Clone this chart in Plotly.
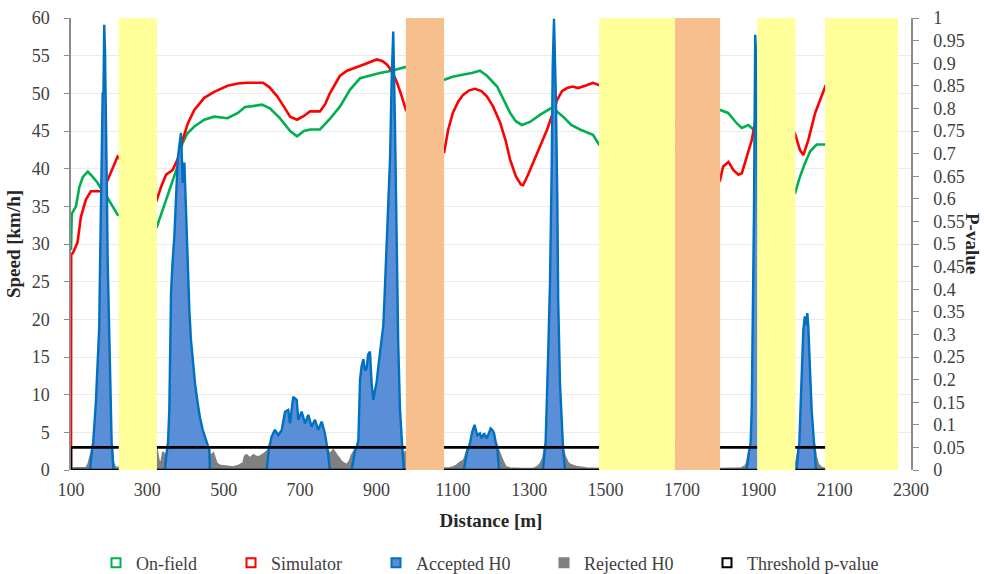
import plotly.graph_objects as go

# ---------------- data ----------------
onfield_x = [100, 102, 113, 122, 131, 144, 157, 170, 183, 196, 209, 222,
             325, 340, 353, 366, 379, 392, 405, 423, 449, 475, 510, 537, 556, 575, 600, 621, 647, 674, 692,
             710, 726, 752, 778, 805, 831, 857, 883, 909, 940, 977,
             1077, 1100, 1128, 1150, 1171, 1190, 1216, 1233, 1250, 1265, 1281, 1302, 1330, 1360, 1389, 1410,
             1433, 1467, 1483,
             1800, 1821, 1844, 1857, 1874, 1887, 1897,
             1996, 2009, 2022, 2036, 2053, 2077]
onfield_y = [29.2, 34.0, 35.0, 37.6, 38.9, 39.6, 38.9, 38.1, 37.0, 36.1, 35.0, 33.9,
             32.3, 34.5, 36.3, 38.5, 40.3, 43.4, 44.7, 45.6, 46.5, 46.9, 46.7, 47.4, 48.2, 48.3, 48.5, 48.0,
             46.7, 45.0, 44.3, 45.0, 45.2, 45.2, 46.6, 48.3, 50.5, 52.0, 52.4, 52.7, 53.0, 53.5,
             51.8, 52.2, 52.5, 52.7, 53.0, 52.3, 50.9, 49.2, 47.4, 46.3, 45.8, 46.2, 47.2, 48.1, 46.9, 45.8,
             45.2, 44.5, 43.2,
             47.8, 47.4, 46.0, 45.4, 45.8, 45.2, 45.2,
             36.7, 38.9, 40.7, 42.3, 43.2, 43.2]

simulator_x = [100, 100.5, 105, 117, 126, 139, 152, 170, 183, 196, 209, 222,
               325, 336, 349, 366, 379, 392, 406, 423, 449, 475, 510, 537, 560, 603, 620, 640, 658, 674, 692,
               710, 726, 752, 766, 778, 804, 823, 860, 901, 915, 928, 942, 954, 965, 977,
               1077, 1088, 1100, 1114, 1127, 1143, 1158, 1175, 1189, 1205, 1224, 1238, 1250, 1265, 1278, 1284,
               1297, 1310, 1330, 1347, 1362, 1373, 1386, 1399, 1414, 1428, 1447, 1467, 1483,
               1800, 1808, 1822, 1835, 1848, 1857, 1870, 1883, 1891,
               1996, 2009, 2018, 2031, 2049, 2077]
simulator_y = [0.0, 28.6, 28.8, 30.2, 33.6, 35.9, 37.0, 37.0, 37.0, 38.5, 40.1, 41.6,
               35.9, 37.6, 39.2, 39.8, 41.2, 43.8, 46.0, 47.8, 49.4, 50.2, 51.0, 51.3, 51.4, 51.4, 50.8, 49.6,
               48.2, 46.9, 46.5, 47.0, 47.6, 47.6, 48.6, 50.0, 52.3, 53.0, 53.7, 54.5, 54.3, 53.8, 52.8, 51.4,
               49.8, 47.8,
               42.1, 45.2, 47.4, 48.9, 49.8, 50.4, 50.6, 50.3, 49.6, 48.3, 46.1, 43.8, 41.2, 39.0, 37.9, 37.8,
               39.2, 40.7, 43.0, 45.2, 47.4, 49.1, 50.3, 50.7, 50.9, 50.7, 51.0, 51.4, 51.1,
               38.5, 40.3, 40.9, 39.8, 39.2, 39.4, 41.6, 43.8, 46.0,
               44.7, 42.5, 41.8, 43.8, 47.4, 51.1]

pvalue_x = [100, 110, 125, 140, 145, 150, 155, 158, 165, 170, 174, 176, 178.6, 181, 183, 185, 187, 189,
            191.6, 194, 196, 199, 202, 204, 206.5, 208, 211, 215, 220,
            325, 330, 336, 341, 346, 350, 354, 357.5, 362, 366, 370.6, 375, 379.4, 384, 388, 390, 392.5,
            397, 401, 405.6, 410, 414, 418.7, 425, 431.8, 438, 445, 452, 458, 462, 464, 472.7, 481.5, 490,
            499, 512, 525, 540, 551, 555, 560, 569, 577.5, 586, 595, 604, 612.5, 618, 621, 625.5, 634, 643,
            652, 660.5, 669, 673.6, 682, 691, 695.4, 704, 713, 721.5, 730, 739, 747.7, 756.6, 765, 769.7,
            772, 778, 787, 796, 809, 815, 822, 830, 835, 844, 848, 852.6, 857, 861, 865.6, 870, 874.4, 878,
            883, 887.5, 891.8, 896, 900.6, 905, 909, 913, 918, 922, 926.8, 931, 935.5, 940, 944, 948.6, 953,
            957, 961.7, 966, 968, 972, 976,
            1077, 1090, 1100, 1110, 1116, 1129, 1138, 1142, 1145, 1151, 1157, 1161, 1164, 1171, 1175.6,
            1181.7, 1188.7, 1194, 1199, 1204, 1208, 1212, 1216.6, 1221, 1229.6, 1238.5, 1250, 1280, 1310,
            1320, 1328, 1336, 1341, 1343, 1350, 1354.5, 1359, 1361.6, 1365, 1370, 1373.7, 1376, 1380.7,
            1386.7, 1389, 1394, 1402, 1410, 1424, 1450, 1476, 1483,
            1800, 1830, 1855, 1865, 1869.6, 1876.5, 1880, 1882.8, 1885.4, 1887, 1888.8, 1890.6, 1892, 1895,
            1900,
            1996, 2000, 2005, 2007.5, 2010, 2013.7, 2018, 2022, 2025, 2028.5, 2031, 2035.5, 2039.8, 2046,
            2048, 2051, 2057, 2066, 2077]
pvalue_y = [0.004, 0.004, 0.004, 0.005, 0.012, 0.026, 0.044, 0.06, 0.148, 0.24, 0.317, 0.45, 0.576, 0.70,
            0.835, 0.83, 0.985, 0.93, 0.797, 0.62, 0.465, 0.33, 0.206, 0.12, 0.06, 0.044, 0.015, 0.008,
            0.004,
            0.045, 0.02, 0.015, 0.04, 0.03, 0.035, 0.06, 0.133, 0.392, 0.46, 0.516, 0.60, 0.686, 0.72, 0.746,
            0.70, 0.635, 0.68, 0.576, 0.502, 0.354, 0.29, 0.244, 0.19, 0.148, 0.115, 0.089, 0.07, 0.055,
            0.045, 0.03, 0.037, 0.015, 0.01, 0.009, 0.007, 0.006, 0.01, 0.015, 0.03, 0.033, 0.026, 0.033,
            0.029, 0.03, 0.035, 0.04, 0.045, 0.06, 0.074, 0.089, 0.077, 0.089, 0.129, 0.133, 0.103, 0.162,
            0.155, 0.111, 0.129, 0.103, 0.122, 0.096, 0.111, 0.089, 0.107, 0.081, 0.055, 0.045, 0.035,
            0.044, 0.033, 0.018, 0.015, 0.011, 0.02, 0.033, 0.044, 0.05, 0.066, 0.20, 0.229, 0.245, 0.22,
            0.225, 0.255, 0.262, 0.19, 0.155, 0.175, 0.195, 0.23, 0.258, 0.28, 0.32, 0.40, 0.502, 0.576,
            0.686, 0.871, 0.97, 0.76, 0.502, 0.28, 0.133, 0.06, 0.045, 0.03, 0.04,
            0.004, 0.004, 0.006, 0.01, 0.015, 0.022, 0.044, 0.05, 0.06, 0.085, 0.10, 0.085, 0.077, 0.081,
            0.07, 0.081, 0.07, 0.08, 0.092, 0.088, 0.081, 0.063, 0.048, 0.041, 0.022, 0.007, 0.004, 0.003,
            0.003, 0.006, 0.012, 0.025, 0.045, 0.06, 0.266, 0.413, 0.671, 0.893, 0.998, 0.819, 0.598, 0.376,
            0.192, 0.06, 0.044, 0.03, 0.015, 0.011, 0.007, 0.004, 0.003, 0.003,
            0.003, 0.003, 0.004, 0.008, 0.015, 0.044, 0.06, 0.133, 0.28, 0.392, 0.576, 0.797, 0.963, 0.90,
            0.50,
            0.01, 0.02, 0.044, 0.06, 0.12, 0.207, 0.31, 0.34, 0.32, 0.347, 0.318, 0.221, 0.133, 0.06, 0.045,
            0.03, 0.012, 0.005, 0.003]

threshold_p = 0.05
threshold_x = [2266, 100, 100, 2266]
threshold_y = [threshold_p, threshold_p, 0, 0]

yellow_bands = [(225, 325), (1483, 1682), (1897, 1997), (2075, 2266)]
orange_bands = [(977, 1077), (1682, 1800)]

x_ticks = list(range(100, 2301, 200))
speed_ticks = list(range(0, 61, 5))
p_ticks = [i / 20 for i in range(21)]
p_tick_labels = ["0", "0.05", "0.1", "0.15", "0.2", "0.25", "0.3", "0.35", "0.4", "0.45", "0.5",
                 "0.55", "0.6", "0.65", "0.7", "0.75", "0.8", "0.85", "0.9", "0.95", "1"]

legend_names = ["On-field", "Simulator", "Accepted H0", "Rejected H0", "Threshold p-value"]

# ---------------- split p-values into accepted / rejected ----------------
n = len(pvalue_y)


def near(i, cond):
    return cond(pvalue_y[i]) or (i > 0 and cond(pvalue_y[i - 1])) or (i < n - 1 and cond(pvalue_y[i + 1]))


accepted = [pvalue_y[i] if near(i, lambda v: v >= threshold_p) else 0 for i in range(n)]
rejected = [pvalue_y[i] if near(i, lambda v: v < threshold_p) else 0 for i in range(n)]

# ---------------- styling ----------------
GREEN = "#00b050"
RED = "#ff0000"
BLUE_LINE = "#0070c0"
BLUE_FILL = "#5a8ed6"
GRAY = "#808080"
YELLOW = "#ffff99"
ORANGE = "#f8bf8e"
FONT = "Liberation Serif, DejaVu Serif, serif"
TXT = "#404040"
TITLE = "#262626"
TICK_SIZE = 18
TITLE_SIZE = 19

fig = go.Figure()

fig.add_trace(go.Scatter(x=onfield_x, y=onfield_y, mode="lines", line=dict(color=GREEN, width=2.6),
                         showlegend=False, hoverinfo="skip"))
fig.add_trace(go.Scatter(x=simulator_x, y=simulator_y, mode="lines", line=dict(color=RED, width=2.6),
                         showlegend=False, hoverinfo="skip"))

fig.add_trace(go.Scatter(x=pvalue_x, y=rejected, yaxis="y2", mode="lines", fill="tozeroy",
                         fillcolor=GRAY, line=dict(color=GRAY, width=2),
                         showlegend=False, hoverinfo="skip"))
fig.add_trace(go.Scatter(x=pvalue_x, y=accepted, yaxis="y2", mode="lines", fill="tozeroy",
                         fillcolor=BLUE_FILL, line=dict(color=BLUE_LINE, width=2.4),
                         showlegend=False, hoverinfo="skip"))
fig.add_trace(go.Scatter(x=threshold_x, y=threshold_y, yaxis="y2", mode="lines",
                         line=dict(color="black", width=2.6), showlegend=False, hoverinfo="skip"))

# legend entries (one legend each, for precise placement)
legend_colors = [(GREEN, "white"), (RED, "white"), (BLUE_LINE, BLUE_FILL), (GRAY, GRAY), ("black", "white")]
legend_pos_px = [124, 259, 404, 572, 735]
legend_ids = ["legend", "legend2", "legend3", "legend4", "legend5"]
for name, (lc, fc), lid in zip(legend_names, legend_colors, legend_ids):
    fig.add_trace(go.Scatter(x=[None], y=[None], mode="markers", name=name, legend=lid,
                             marker=dict(symbol="square", size=9, color=fc, line=dict(color=lc, width=2))))

ML, MR, MT, MB = 71, 73, 18, 104
W, H = 984, 574
PW = W - ML - MR
PH = H - MT - MB

shapes = []
for (a, b) in yellow_bands:
    shapes.append(dict(type="rect", xref="x", yref="paper", x0=a, x1=b, y0=0, y1=1,
                       fillcolor=YELLOW, line=dict(width=0), layer="above"))
for (a, b) in orange_bands:
    shapes.append(dict(type="rect", xref="x", yref="paper", x0=a, x1=b, y0=0, y1=1,
                       fillcolor=ORANGE, line=dict(width=0), layer="above"))

legend_layout = {}
for lid, px in zip(legend_ids, legend_pos_px):
    legend_layout[lid] = dict(x=(px - 28 - ML) / PW, y=(MT + PH - 563) / PH, xanchor="left",
                              yanchor="middle", orientation="h", bgcolor="rgba(0,0,0,0)",
                              font=dict(family=FONT, size=TICK_SIZE, color=TXT), itemwidth=30)

fig.update_layout(
    width=W, height=H,
    margin=dict(l=ML, r=MR, t=MT, b=MB, autoexpand=False),
    paper_bgcolor="white", plot_bgcolor="white",
    font=dict(family=FONT, size=TICK_SIZE, color=TXT),
    shapes=shapes,
    xaxis=dict(range=[100, 2300], tickvals=x_ticks, ticktext=[str(v) for v in x_ticks],
               showgrid=False, zeroline=False, showline=False, ticks="", ticklabelstandoff=7,
               tickfont=dict(family=FONT, size=TICK_SIZE, color=TXT), automargin=False,
               title=dict(text="<b>Distance [m]</b>", font=dict(family=FONT, size=TITLE_SIZE, color=TITLE),
                          standoff=14)),
    yaxis=dict(range=[0, 60], tickvals=speed_ticks, ticktext=[str(v) for v in speed_ticks],
               showgrid=True, gridcolor="#ebebeb", gridwidth=1, zeroline=False, automargin=False,
               showline=True, linecolor="#8c8c8c", linewidth=1.5, ticks="outside", ticklen=5,
               tickcolor="#8c8c8c", ticklabelstandoff=11,
               tickfont=dict(family=FONT, size=TICK_SIZE, color=TXT),
               title=dict(text="<b>Speed [km/h]</b>", font=dict(family=FONT, size=TITLE_SIZE, color=TITLE),
                          standoff=6)),
    yaxis2=dict(range=[0, 1], overlaying="y", side="right", tickvals=p_ticks, ticktext=p_tick_labels,
                showgrid=False, zeroline=False, showline=True, linecolor="#8c8c8c", linewidth=1.5,
                ticks="outside", ticklen=6, tickcolor="#8c8c8c", ticklabelstandoff=11, automargin=False,
                tickfont=dict(family=FONT, size=TICK_SIZE, color=TXT)),
    annotations=[dict(text="<b>P-value</b>", xref="paper", yref="paper",
                      x=(973 - ML) / PW, y=(MT + PH - 243) / PH, xanchor="center", yanchor="middle",
                      showarrow=False, textangle=90,
                      font=dict(family=FONT, size=TITLE_SIZE, color=TITLE))],
    **legend_layout,
)

fig.write_html("out.html")
